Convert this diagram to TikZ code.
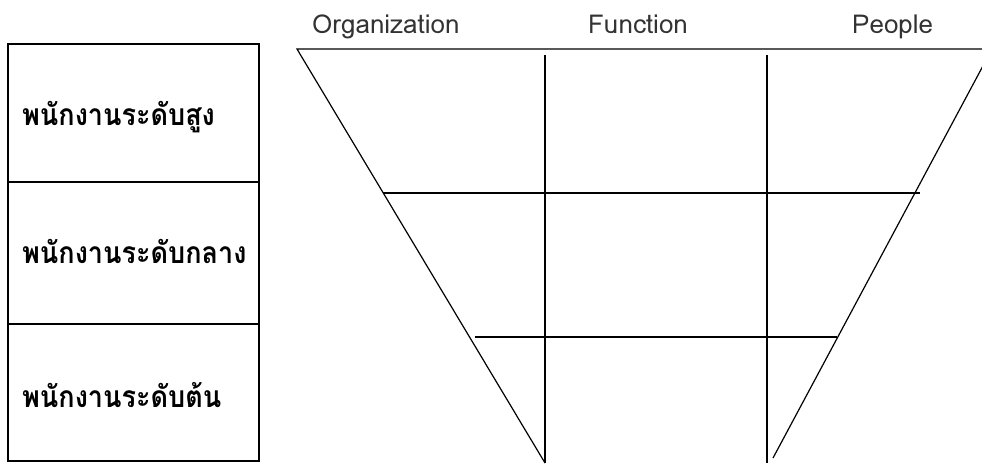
\documentclass[tikz,border=0pt]{standalone}
\usepackage{fontspec}
\newfontfamily\thaifont[Script=Thai, FakeStretch=0.9]{Loma}
\newfontfamily\latfont{Loma}
\begin{document}
\begin{tikzpicture}[x=1pt,y=1pt,
  rowbox/.style={draw=black, line width=1.6pt, anchor=north west, inner sep=0pt, minimum width=251pt},
  rowtext/.style={anchor=base west, inner sep=0pt, font=\thaifont\bfseries\fontsize{30}{34}\selectfont},
  collabel/.style={anchor=base west, inner sep=0pt, font=\latfont\fontsize{26}{30}\selectfont, text=black!80},
  funnel/.style={line width=1.2pt, black}]
\useasboundingbox (0,0) rectangle (982,-463);
% left boxes
\node[rowbox, minimum height=138pt] (r1) at (7,-43) {};
\node[rowbox, minimum height=142pt] (r2) at (7,-181) {};
\node[rowbox, minimum height=137pt] (r3) at (7,-323) {};
\node[rowtext] (t1) at (22,-125) {พนักงานระดับสูง};
\node[rowtext] (t2) at (22,-263) {พนักงานระดับกลาง};
\node[rowtext] (t3) at (22,-407) {พนักงานระดับต้น};
% column labels
\node[collabel] (l1) at (312,-33) {Organization};
\node[collabel] (l2) at (588,-33) {Function};
\node[collabel] (l3) at (852,-33) {People};
% funnel
\coordinate (tl) at (297,-49);
\coordinate (tr) at (982,-49);
\coordinate (bl) at (545,-463);
\coordinate (rtop) at (992,-49);
\coordinate (rbot) at (773,-458);
\coordinate (v1t) at (545,-55);
\coordinate (v1b) at (545,-463);
\coordinate (v2t) at (767,-55);
\coordinate (v2b) at (767,-463);
\coordinate (h1l) at (383,-193);
\coordinate (h1r) at (920,-193);
\coordinate (h2l) at (475,-337);
\coordinate (h2r) at (837,-337);
\begin{scope}
\clip (0,0) rectangle (982,-463);
\draw[funnel] (tr) -- (tl) -- (bl);
\draw[funnel] (rbot) -- (rtop);
\draw[funnel] (v1t) -- (v1b);
\draw[funnel] (v2t) -- (v2b);
\draw[funnel] (h1l) -- (h1r);
\draw[funnel] (h2l) -- (h2r);
\end{scope}
\end{tikzpicture}
\end{document}
